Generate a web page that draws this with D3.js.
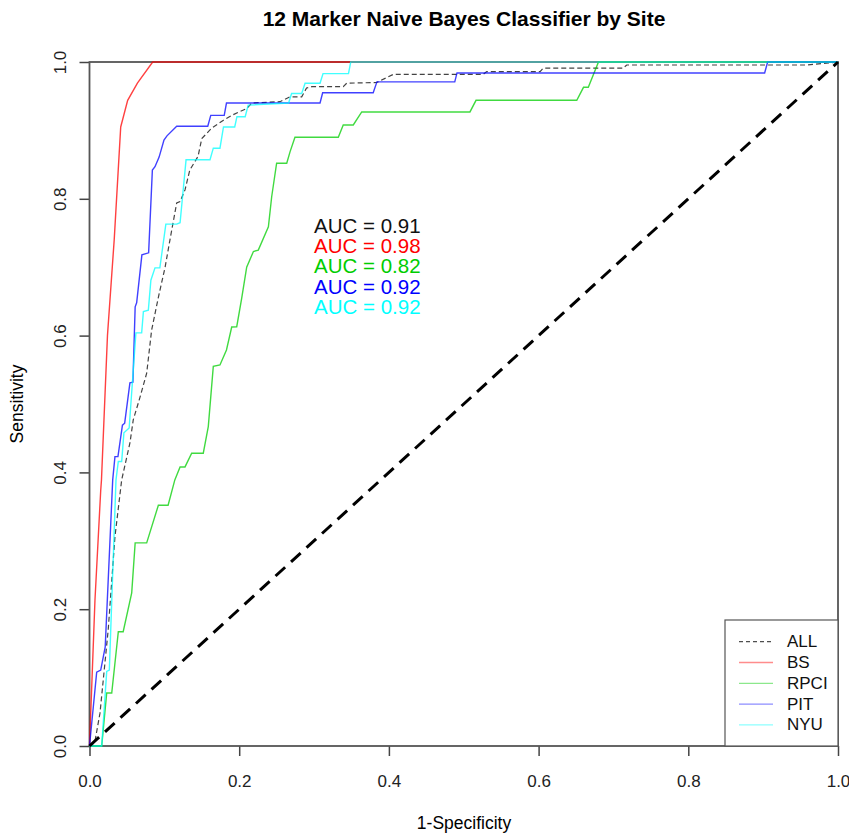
<!DOCTYPE html>
<html>
<head>
<meta charset="utf-8">
<script src="https://cdn.jsdelivr.net/npm/d3@7"></script>
<style>
  body { margin: 0; background: #fff; }
  svg text { font-family: "Liberation Sans", Arial, sans-serif; }
</style>
</head>
<body>
<svg id="chart" width="849" height="835"></svg>
<script>
// ROC points per site, [1-specificity, sensitivity].
const rocAll = [[0,0],[0.007,0.005],[0.014,0.048],[0.025,0.17],[0.034,0.306],[0.043,0.389],[0.054,0.443],[0.0585,0.477],
  [0.0675,0.51],[0.0764,0.545],[0.083,0.608],[0.092,0.656],[0.101,0.7],[0.1075,0.74],[0.1165,0.794],[0.121,0.796],
  [0.1276,0.813],[0.134,0.842],[0.145,0.862],[0.15,0.888],[0.163,0.903],[0.179,0.915],[0.192,0.923],[0.21,0.932],
  [0.217,0.94],[0.2545,0.942],[0.2676,0.949],[0.2835,0.949],[0.29,0.962],[0.297,0.964],[0.339,0.964],[0.3436,0.969],
  [0.3837,0.97],[0.406,0.982],[0.526,0.982],[0.5307,0.986],[0.602,0.986],[0.606,0.991],[0.713,0.991],[0.7177,0.9956],
  [0.958,0.9956],[1,1]];
const rocBS = [[0,0],[0.0073,0.213],[0.015,0.374],[0.016,0.389],[0.024,0.6],[0.033,0.74],[0.0417,0.905],[0.051,0.944],
  [0.064,0.969],[0.0844,1],[1,1]];
const rocRPCI = [[0,0],[0.0163,0],[0.023,0.0775],[0.0297,0.0775],[0.0385,0.167],[0.045,0.167],[0.0564,0.224],[0.061,0.297],
  [0.0764,0.297],[0.092,0.352],[0.105,0.352],[0.114,0.389],[0.121,0.408],[0.1276,0.408],[0.1365,0.428],[0.152,0.428],
  [0.1587,0.467],[0.1654,0.555],[0.1743,0.557],[0.183,0.579],[0.19,0.6126],[0.1967,0.613],[0.2033,0.6545],[0.21,0.7],
  [0.219,0.723],[0.2255,0.725],[0.239,0.759],[0.2434,0.803],[0.25,0.852],[0.2635,0.852],[0.268,0.869],[0.2745,0.89],
  [0.3324,0.89],[0.339,0.908],[0.3524,0.908],[0.3637,0.927],[0.5083,0.927],[0.5164,0.944],[0.651,0.944],[0.66,0.963],
  [0.6664,0.963],[0.68,1],[1,1]];
const rocPIT = [[0,0],[0.0096,0.108],[0.015,0.111],[0.021,0.145],[0.031,0.389],[0.034,0.423],[0.038,0.423],[0.044,0.469],
  [0.047,0.472],[0.054,0.531],[0.058,0.532],[0.061,0.642],[0.063,0.648],[0.07,0.718],[0.079,0.721],[0.084,0.842],
  [0.0875,0.847],[0.093,0.861],[0.0995,0.886],[0.1035,0.892],[0.1165,0.906],[0.158,0.906],[0.162,0.922],[0.18,0.922],
  [0.183,0.94],[0.308,0.94],[0.3115,0.955],[0.379,0.955],[0.384,0.971],[0.488,0.971],[0.491,0.984],[0.902,0.984],
  [0.906,1],[1,1]];
const rocNYU = [[0,0],[0.0163,0],[0.023,0.109],[0.0265,0.111],[0.0354,0.389],[0.0385,0.416],[0.043,0.416],[0.046,0.458],
  [0.053,0.465],[0.062,0.604],[0.0697,0.604],[0.072,0.635],[0.0786,0.637],[0.082,0.681],[0.0875,0.699],[0.094,0.699],
  [0.102,0.763],[0.1165,0.763],[0.121,0.765],[0.129,0.857],[0.161,0.857],[0.1654,0.874],[0.1743,0.874],[0.179,0.905],
  [0.194,0.905],[0.197,0.92],[0.208,0.92],[0.212,0.937],[0.266,0.94],[0.27,0.954],[0.2835,0.954],[0.288,0.969],
  [0.308,0.969],[0.312,0.983],[0.346,0.983],[0.349,1],[1,1]];

const siteNames = ['ALL', 'BS', 'RPCI', 'PIT', 'NYU'];
const siteColors = ['#222222', '#ff0000', '#00cd00', '#0000ff', '#00ffff'];
const aucValues = [0.91, 0.98, 0.82, 0.92, 0.92];
const tickValues = [0, 0.2, 0.4, 0.6, 0.8, 1.0];

let svg = d3.select('#chart');

// Plot region
let xScale = d3.scaleLinear().domain([0, 1]).range([89.5, 838]);
let yScale = d3.scaleLinear().domain([0, 1]).range([746, 62]);

// Title and axis labels
svg.append('text')
    .attr('x', 464)
    .attr('y', 26)
    .attr('text-anchor', 'middle')
    .style('font-size', '21px')
    .style('font-weight', 'bold')
    .text('12 Marker Naive Bayes Classifier by Site');

svg.append('text')
    .attr('x', 464)
    .attr('y', 829)
    .attr('text-anchor', 'middle')
    .style('font-size', '17.5px')
    .text('1-Specificity');

svg.append('text')
    .attr('transform', 'translate(23,404) rotate(-90)')
    .attr('text-anchor', 'middle')
    .style('font-size', '17.5px')
    .text('Sensitivity');

// Axes
let fmt = d3.format('.1f');
let xAxis = svg.append('g')
    .attr('transform', 'translate(0,746)')
    .call(d3.axisBottom(xScale).tickValues(tickValues).tickSize(10).tickFormat(fmt));
xAxis.selectAll('text')
    .attr('y', 41)
    .attr('dy', 0)
    .style('font-size', '17px')
    .attr('fill', '#222');

let yAxis = svg.append('g')
    .attr('transform', 'translate(89.5,0)')
    .call(d3.axisLeft(yScale).tickValues(tickValues).tickSize(10).tickFormat(fmt));
yAxis.selectAll('text')
    .attr('x', 0)
    .attr('y', -24)
    .attr('dy', 0)
    .attr('transform', 'rotate(-90)')
    .attr('text-anchor', 'middle')
    .style('font-size', '17px')
    .attr('fill', '#222');

svg.selectAll('.domain').remove();
svg.selectAll('.tick line').attr('stroke', '#444').attr('stroke-width', 1.5);

// Frame
svg.append('rect')
    .attr('x', 89.5)
    .attr('y', 62)
    .attr('width', 838 - 89.5)
    .attr('height', 746 - 62)
    .attr('fill', 'none')
    .attr('stroke', '#555')
    .attr('stroke-width', 1.8);

// ROC curves
let line = d3.line()
    .x(d => xScale(d[0]))
    .y(d => yScale(d[1]));

let curves = [rocAll, rocBS, rocRPCI, rocPIT, rocNYU];
svg.append('g')
    .selectAll('path')
    .data(curves)
    .join('path')
    .attr('d', line)
    .attr('fill', 'none')
    .attr('stroke', (d, i) => siteColors[i])
    .attr('stroke-width', (d, i) => i === 0 ? 1.2 : 1.4)
    .attr('stroke-opacity', (d, i) => i === 0 ? 0.85 : 0.75)
    .attr('stroke-dasharray', (d, i) => i === 0 ? '5,3' : null);

// Chance diagonal
svg.append('path')
    .attr('d', line([[0, 0], [1, 1]]))
    .attr('fill', 'none')
    .attr('stroke', '#000')
    .attr('stroke-width', 3)
    .attr('stroke-dasharray', '13,8');

// AUC labels
svg.append('g')
    .selectAll('text')
    .data(aucValues)
    .join('text')
    .attr('x', 314)
    .attr('y', (d, i) => 233 + i * 20.2)
    .attr('fill', (d, i) => i === 0 ? '#111' : siteColors[i])
    .style('font-size', '20.5px')
    .text(d => 'AUC = ' + d.toFixed(2));

// Legend
let legend = svg.append('g');
legend.append('rect')
    .attr('x', 725)
    .attr('y', 620)
    .attr('width', 838 - 725)
    .attr('height', 746 - 620)
    .attr('fill', '#fff')
    .attr('stroke', '#555')
    .attr('stroke-width', 1.2);

siteNames.forEach(function(name, i) {
    let cy = 641.7 + i * 20.8;
    legend.append('line')
        .attr('x1', 739)
        .attr('x2', 773)
        .attr('y1', cy)
        .attr('y2', cy)
        .attr('stroke', siteColors[i])
        .attr('stroke-width', 1.3)
        .attr('stroke-opacity', i === 0 ? 0.8 : 0.45)
        .attr('stroke-dasharray', i === 0 ? '4,3' : null);
    legend.append('text')
        .attr('x', 787)
        .attr('y', cy + 5.5)
        .style('font-size', '17px')
        .attr('fill', '#111')
        .text(name);
});
</script>
</body>
</html>
